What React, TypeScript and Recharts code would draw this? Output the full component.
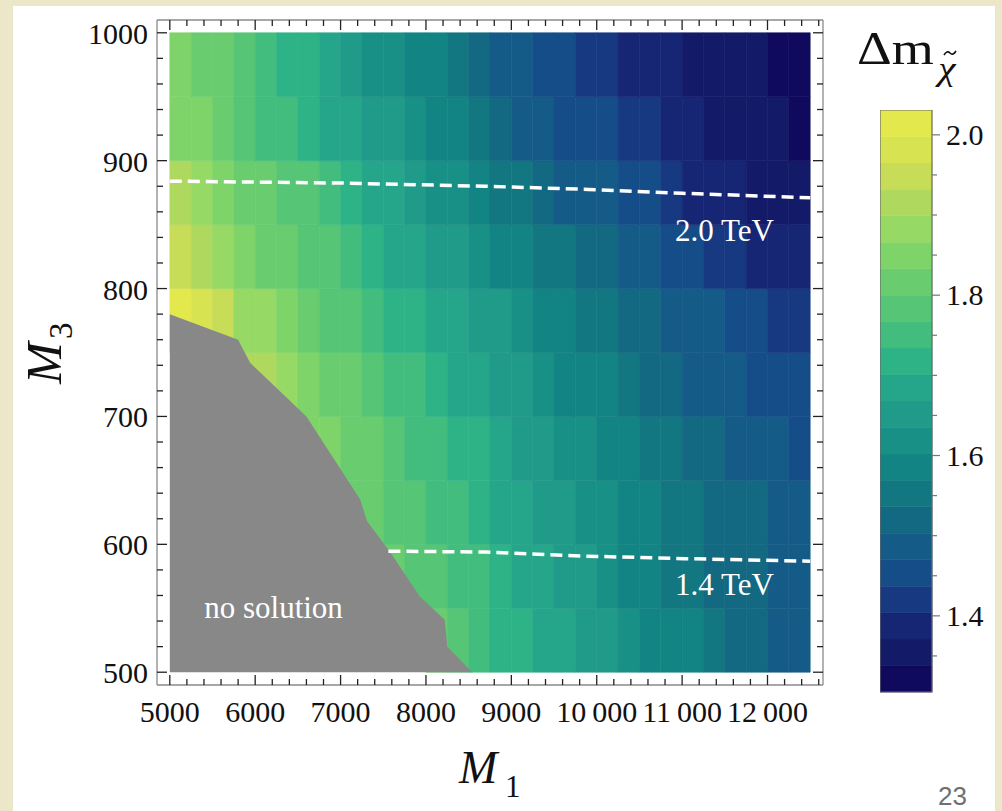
import React from "react";
import { Area, ComposedChart, Line, ReferenceArea, ReferenceDot, XAxis, YAxis } from "recharts";

// grid cell edges of the density plot
const m1Edges = [5000, 5250, 5500, 5750, 6000, 6250, 6500, 6750, 7000, 7250, 7500, 7750, 8000, 8250, 8500, 8750, 9000, 9250, 9500, 9750, 10000, 10250, 10500, 10750, 11000, 11250, 11500, 11750, 12000, 12250, 12500];
const m3Edges = [500, 550, 600, 650, 700, 750, 800, 850, 900, 950, 1000];

// Δm values per M3 row (null = inside the "no solution" region)
const dm525 = [null, null, null, null, null, null, null, null, null, null, null, null, 1.80, 1.78, 1.76, 1.73, 1.71, 1.69, 1.67, 1.66, 1.64, 1.62, 1.60, 1.59, 1.57, 1.55, 1.53, 1.52, 1.50, 1.49];
const dm575 = [null, null, null, null, null, null, null, null, null, null, 1.81, 1.79, 1.78, 1.76, 1.74, 1.72, 1.70, 1.68, 1.66, 1.64, 1.62, 1.60, 1.58, 1.56, 1.55, 1.53, 1.52, 1.51, 1.50, 1.49];
const dm625 = [null, null, null, null, null, null, null, null, 1.83, 1.81, 1.79, 1.78, 1.76, 1.74, 1.72, 1.70, 1.68, 1.66, 1.64, 1.62, 1.61, 1.59, 1.58, 1.56, 1.55, 1.53, 1.52, 1.51, 1.50, 1.48];
const dm675 = [null, null, null, null, null, null, 1.86, 1.84, 1.82, 1.80, 1.78, 1.76, 1.75, 1.73, 1.71, 1.68, 1.66, 1.64, 1.62, 1.61, 1.59, 1.57, 1.56, 1.54, 1.53, 1.51, 1.50, 1.49, 1.47, 1.46];
const dm725 = [null, null, null, 1.92, 1.90, 1.87, 1.84, 1.81, 1.80, 1.78, 1.76, 1.75, 1.72, 1.70, 1.68, 1.66, 1.64, 1.62, 1.60, 1.58, 1.57, 1.55, 1.53, 1.52, 1.50, 1.49, 1.48, 1.46, 1.45, 1.44];
const dm775 = [2.00, 1.98, 1.95, 1.89, 1.87, 1.84, 1.81, 1.79, 1.77, 1.75, 1.73, 1.72, 1.70, 1.68, 1.66, 1.64, 1.62, 1.60, 1.58, 1.56, 1.55, 1.53, 1.51, 1.50, 1.48, 1.47, 1.46, 1.44, 1.43, 1.42];
const dm825 = [1.94, 1.91, 1.87, 1.86, 1.82, 1.80, 1.78, 1.77, 1.75, 1.72, 1.70, 1.68, 1.66, 1.64, 1.62, 1.60, 1.58, 1.56, 1.54, 1.52, 1.51, 1.49, 1.47, 1.46, 1.44, 1.43, 1.42, 1.40, 1.39, 1.38];
const dm875 = [1.90, 1.88, 1.85, 1.83, 1.80, 1.78, 1.77, 1.74, 1.71, 1.70, 1.67, 1.65, 1.63, 1.61, 1.59, 1.56, 1.54, 1.52, 1.50, 1.49, 1.47, 1.46, 1.44, 1.42, 1.40, 1.39, 1.38, 1.37, 1.36, 1.35];
const dm925 = [1.86, 1.85, 1.81, 1.79, 1.76, 1.75, 1.73, 1.70, 1.68, 1.66, 1.64, 1.62, 1.59, 1.57, 1.55, 1.52, 1.50, 1.49, 1.46, 1.45, 1.44, 1.43, 1.41, 1.40, 1.38, 1.37, 1.36, 1.35, 1.34, 1.33];
const dm975 = [1.86, 1.83, 1.81, 1.78, 1.75, 1.73, 1.71, 1.68, 1.66, 1.63, 1.61, 1.59, 1.57, 1.54, 1.51, 1.49, 1.47, 1.46, 1.44, 1.43, 1.42, 1.40, 1.39, 1.38, 1.36, 1.35, 1.34, 1.34, 1.32, 1.31];
const dmRows = [dm525, dm575, dm625, dm675, dm725, dm775, dm825, dm875, dm925, dm975];

// edge of the "no solution" region
const noSolutionEdge = [
  { m1: 5000, m3: 780 },
  { m1: 5800, m3: 760 },
  { m1: 5940, m3: 742 },
  { m1: 6600, m3: 700 },
  { m1: 7230, m3: 635 },
  { m1: 7310, m3: 618 },
  { m1: 7580, m3: 594 },
  { m1: 7930, m3: 559 },
  { m1: 8220, m3: 541 },
  { m1: 8250, m3: 520 },
  { m1: 8540, m3: 500 },
];

// dashed contours
const contour20 = [
  { m1: 5000, m3: 884 },
  { m1: 7000, m3: 882.5 },
  { m1: 8700, m3: 880 },
  { m1: 9900, m3: 877.5 },
  { m1: 11000, m3: 874.5 },
  { m1: 12500, m3: 871 },
];
const contour14 = [
  { m1: 7560, m3: 594.6 },
  { m1: 8700, m3: 594 },
  { m1: 9860, m3: 590.8 },
  { m1: 11030, m3: 588.8 },
  { m1: 12500, m3: 586.8 },
];

const xTicks = [5000, 5200, 5400, 5600, 5800, 6000, 6200, 6400, 6600, 6800, 7000, 7200, 7400, 7600, 7800, 8000, 8200, 8400, 8600, 8800, 9000, 9200, 9400, 9600, 9800, 10000, 10200, 10400, 10600, 10800, 11000, 11200, 11400, 11600, 11800, 12000, 12200, 12400, 12600];
const yTicks = [500, 520, 540, 560, 580, 600, 620, 640, 660, 680, 700, 720, 740, 760, 780, 800, 820, 840, 860, 880, 900, 920, 940, 960, 980, 1000];

// colour legend bands and ticks
const legendEdges = [1.305, 1.338, 1.371, 1.404, 1.437, 1.47, 1.503, 1.536, 1.569, 1.602, 1.635, 1.668, 1.701, 1.734, 1.767, 1.8, 1.833, 1.866, 1.899, 1.932, 1.965, 1.998, 2.031];
const legendTicks = [1.35, 1.4, 1.45, 1.5, 1.55, 1.6, 1.65, 1.7, 1.75, 1.8, 1.85, 1.9, 1.95, 2.0];

const colorStops: [number, string][] = [
  [1.305, "#0e0058"], [1.35, "#131a68"], [1.4, "#172a78"], [1.44, "#15478a"], [1.48, "#145a88"],
  [1.52, "#136882"], [1.56, "#127a80"], [1.6, "#128a84"], [1.64, "#1f9688"], [1.68, "#24a48a"],
  [1.72, "#2fb487"], [1.76, "#48c07a"], [1.8, "#5fc872"], [1.84, "#78d26a"], [1.88, "#94d964"],
  [1.92, "#b2d95d"], [1.96, "#cfdd55"], [2.0, "#e0e84e"], [2.04, "#e8ea4a"],
];

const serif = '"Liberation Serif", "DejaVu Serif", serif';
const frame = { stroke: "#8a8a8a", strokeWidth: 1.3 };

function hex(c: string) {
  return [1, 3, 5].map((k) => parseInt(c.slice(k, k + 2), 16));
}

function colorAt(v: number) {
  if (v <= colorStops[0][0]) return colorStops[0][1];
  for (let k = 1; k < colorStops.length; k++) {
    const [v1, c1] = colorStops[k];
    if (v <= v1) {
      const [v0, c0] = colorStops[k - 1];
      const t = (v - v0) / (v1 - v0);
      const a = hex(c0);
      const b = hex(c1);
      return `rgb(${a.map((x, i) => Math.round(x + (b[i] - x) * t)).join(",")})`;
    }
  }
  return colorStops[colorStops.length - 1][1];
}

function bandColor(v: number) {
  let k = 0;
  while (k < legendEdges.length - 2 && v >= legendEdges[k + 1]) k++;
  return colorAt((legendEdges[k] + legendEdges[k + 1]) / 2);
}

function fmtM1(v: number) {
  return v >= 10000 ? `${v / 1000}\u2009000` : String(v);
}

function BottomTick({ x, y, payload }: any) {
  const major = payload.value % 1000 === 0;
  return (
    <g>
      <line x1={x} y1={y} x2={x} y2={y - (major ? 10 : 6)} stroke="#222" strokeWidth={1.3} />
      {major && (
        <text x={x} y={y + 37} textAnchor="middle" fontFamily={serif} fontSize={30} fill="#111">
          {fmtM1(payload.value)}
        </text>
      )}
    </g>
  );
}

function TopTick({ x, y, payload }: any) {
  const major = payload.value % 1000 === 0;
  return <line x1={x} y1={y} x2={x} y2={y + (major ? 10 : 6)} stroke="#222" strokeWidth={1.3} />;
}

function LeftTick({ x, y, payload }: any) {
  const major = payload.value % 100 === 0;
  return (
    <g>
      <line x1={x} y1={y} x2={x + (major ? 10 : 6)} y2={y} stroke="#222" strokeWidth={1.3} />
      {major && (
        <text x={x - 9} y={y + 11} textAnchor="end" fontFamily={serif} fontSize={30} fill="#111">
          {payload.value}
        </text>
      )}
    </g>
  );
}

function RightTick({ x, y, payload }: any) {
  const major = payload.value % 100 === 0;
  return <line x1={x} y1={y} x2={x - (major ? 10 : 6)} y2={y} stroke="#222" strokeWidth={1.3} />;
}

function LegendTick({ x, y, payload }: any) {
  const major = Math.round(payload.value * 100) % 20 === 0;
  return (
    <g>
      <line x1={x} y1={y} x2={x + (major ? 8 : 5)} y2={y} stroke="#777" strokeWidth={1.2} />
      {major && (
        <text x={x + 14} y={y + 10} fontFamily={serif} fontSize={30} fill="#111">
          {payload.value.toFixed(1)}
        </text>
      )}
    </g>
  );
}

export default function App() {
  const cells = dmRows.flatMap((row, j) =>
    row.map((v, i) => {
      if (v == null) return null;
      const c = bandColor(v);
      return (
        <ReferenceArea
          key={`c${i}-${j}`}
          x1={m1Edges[i]}
          x2={m1Edges[i + 1]}
          y1={m3Edges[j]}
          y2={m3Edges[j + 1]}
          fill={c}
          fillOpacity={1}
          stroke={c}
          strokeWidth={0.6}
          ifOverflow="visible"
        />
      );
    })
  );

  const legendData = legendEdges.slice(0, -1).map((lo, k) => ({ x: 0.5, lo, hi: legendEdges[k + 1] }));
  const bands = legendData.map((b, k) => {
    const c = colorAt((b.lo + b.hi) / 2);
    return (
      <ReferenceArea key={`b${k}`} x1={0} x2={1} y1={b.lo} y2={b.hi} fill={c} fillOpacity={1} stroke={c} strokeWidth={0.6} ifOverflow="visible" />
    );
  });

  return (
    <div style={{ position: "fixed", left: 0, top: 0, width: 1002, height: 811, background: "#ECE7C9", overflow: "hidden" }}>
      <div style={{ position: "absolute", left: 13, top: 6, width: 982, height: 805, background: "#fff" }} />

      <div style={{ position: "absolute", left: 0, top: 0 }}>
        <ComposedChart width={1002} height={811} data={noSolutionEdge} margin={{ top: 19, right: 178, bottom: 125, left: 156 }}>
          <XAxis
            type="number"
            dataKey="m1"
            domain={[4850, 12650]}
            allowDataOverflow
            ticks={xTicks}
            interval={0}
            height={1}
            tickSize={0}
            tickMargin={0}
            tickLine={false}
            axisLine={frame}
            tick={<BottomTick />}
          />
          <XAxis
            xAxisId="top"
            orientation="top"
            type="number"
            dataKey="m1"
            domain={[4850, 12650]}
            allowDataOverflow
            ticks={xTicks}
            interval={0}
            height={1}
            tickSize={0}
            tickMargin={0}
            tickLine={false}
            axisLine={frame}
            tick={<TopTick />}
          />
          <YAxis
            type="number"
            domain={[490, 1010]}
            allowDataOverflow
            ticks={yTicks}
            interval={0}
            width={1}
            tickSize={0}
            tickMargin={0}
            tickLine={false}
            axisLine={frame}
            tick={<LeftTick />}
          />
          <YAxis
            yAxisId="right"
            orientation="right"
            type="number"
            domain={[490, 1010]}
            allowDataOverflow
            ticks={yTicks}
            interval={0}
            width={1}
            tickSize={0}
            tickMargin={0}
            tickLine={false}
            axisLine={frame}
            tick={<RightTick />}
          />
          {cells}
          <Area dataKey="m3" type="linear" baseValue={500} fill="#888888" fillOpacity={1} stroke="none" isAnimationActive={false} />
          <Line data={contour20} dataKey="m3" type="linear" stroke="#fff" strokeWidth={3.5} strokeDasharray="12 6" dot={false} isAnimationActive={false} />
          <Line data={contour14} dataKey="m3" type="linear" stroke="#fff" strokeWidth={3.5} strokeDasharray="12 6" dot={false} isAnimationActive={false} />
          <ReferenceDot x={6215} y={551} r={0} fill="none" stroke="none" ifOverflow="visible"
            label={{ value: "no solution", position: "center", fill: "#fff", fontSize: 31, fontFamily: serif }} />
          <ReferenceDot x={11495} y={846} r={0} fill="none" stroke="none" ifOverflow="visible"
            label={{ value: "2.0 TeV", position: "center", fill: "#fff", fontSize: 31, fontFamily: serif }} />
          <ReferenceDot x={11495} y={569} r={0} fill="none" stroke="none" ifOverflow="visible"
            label={{ value: "1.4 TeV", position: "center", fill: "#fff", fontSize: 31, fontFamily: serif }} />
        </ComposedChart>
      </div>

      <div style={{ position: "absolute", left: 880, top: 110 }}>
        <ComposedChart width={120} height={583} data={legendData} margin={{ top: 0, right: 67, bottom: 0, left: 0 }}>
          <XAxis type="number" dataKey="x" domain={[0, 1]} height={1} tick={false} tickLine={false} axisLine={false} />
          <YAxis
            type="number"
            orientation="right"
            domain={[1.305, 2.031]}
            allowDataOverflow
            ticks={legendTicks}
            interval={0}
            width={1}
            tickSize={0}
            tickMargin={0}
            tickLine={false}
            axisLine={false}
            tick={<LegendTick />}
          />
          {bands}
          <ReferenceArea x1={0} x2={1} y1={1.305} y2={2.031} fill="none" stroke="#6b6b6b" strokeWidth={1.2} ifOverflow="visible" />
        </ComposedChart>
      </div>

      <svg width={1002} height={811} style={{ position: "absolute", left: 0, top: 0, pointerEvents: "none" }}>
        <text x={459} y={783} fontFamily={serif} fontStyle="italic" fontSize={46} fill="#111">M</text>
        <text x={505} y={797} fontFamily={serif} fontSize={31} fill="#111">1</text>
        <g transform="translate(61, 384) rotate(-90)">
          <text x={0} y={0} fontFamily={serif} fontStyle="italic" fontSize={50} fill="#111">M</text>
          <text x={45} y={11} fontFamily={serif} fontSize={33} fill="#111">3</text>
        </g>
        <g transform="translate(857, 64) scale(1.15, 1)">
          <text x={0} y={0} fontFamily={serif} fontSize={47} fill="#111">
            Δm
            <tspan dx={4} dy={16} fontSize={34} fontStyle="italic">χ</tspan>
          </text>
        </g>
        <path d="M944,55 q3,-5 6,-2 t6,-2" fill="none" stroke="#111" strokeWidth={1.6} />
        <text x={938} y={805} fontFamily='"Liberation Sans", Arial, sans-serif' fontSize={26} fill="#707070">23</text>
      </svg>
    </div>
  );
}
